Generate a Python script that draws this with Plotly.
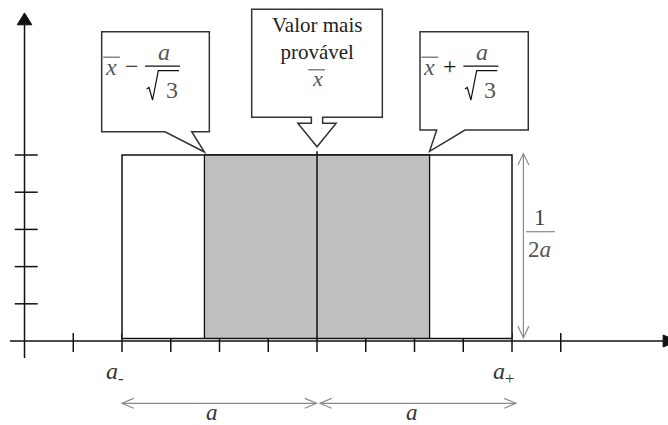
import math
import plotly.graph_objects as go

# Uniform (rectangular) distribution: centre, half-width and density level
xbar = 0.0
a = 4.0
level = 5.0
sigma = a / math.sqrt(3)

x_ticks = [-5, -4, -3, -2, -1, 0, 1, 2, 3, 4, 5]
y_ticks = [1, 2, 3, 4, 5]

box_labels = ["Valor mais<br>provável"]
bound_labels = ["<i>a</i><sub>-</sub>", "<i>a</i><sub>+</sub>"]
width_label = "<i>a</i>"

BLACK = "#111111"
EDGE = "#333333"
INK = "#3a3a3a"
GREY = "#8a8a8a"
FILL = "#c0c0c0"
SERIF = "Liberation Serif"

y_axis_x = xbar - 6.0
rect_floor = 0.07

fig = go.Figure()
shapes = []
annotations = []


def seg(x0, y0, x1, y1, color=BLACK, w=1.5):
    shapes.append(dict(type="line", xref="x", yref="y", x0=x0, y0=y0, x1=x1, y1=y1,
                       line=dict(color=color, width=w), layer="above"))


def path(points, fill=None, color=BLACK, w=1.5, closed=True):
    d = "M " + " L ".join(f"{px},{py}" for px, py in points) + (" Z" if closed else "")
    shapes.append(dict(type="path", xref="x", yref="y", path=d,
                       fillcolor=fill if fill else "rgba(0,0,0,0)",
                       line=dict(color=color, width=w), layer="above"))


def text(x, y, s, size=22, italic=False, color=INK):
    if italic:
        s = f"<i>{s}</i>"
    annotations.append(dict(x=x, y=y, xref="x", yref="y", text=s, showarrow=False,
                            xanchor="center", yanchor="middle",
                            font=dict(family=SERIF, size=size, color=color)))


# Axes drawn as lines with filled arrowheads
seg(-6.3, 0, 7.1, 0)
path([(7.1, 0.16), (7.4, 0), (7.1, -0.16)], fill=BLACK, w=1)
seg(y_axis_x, -0.46, y_axis_x, 8.5)
path([(y_axis_x - 0.15, 8.5), (y_axis_x, 8.82), (y_axis_x + 0.15, 8.5)], fill=BLACK, w=1)
for t in x_ticks:
    seg(t, 0.215, t, -0.296)
for t in y_ticks:
    seg(y_axis_x - 0.2, t, y_axis_x + 0.27, t)

# Density rectangle with the shaded central region
path([(xbar - a, rect_floor), (xbar + a, rect_floor), (xbar + a, level), (xbar - a, level)],
     fill="white", color=BLACK, w=1.5)
path([(xbar - sigma, rect_floor), (xbar + sigma, rect_floor),
      (xbar + sigma, level), (xbar - sigma, level)], fill=FILL, color=BLACK, w=1.3)
seg(xbar, rect_floor, xbar, level + 0.1)


def overline(xc, y, half=0.17):
    seg(xc - half, y, xc + half, y, color="#555555", w=1.1)


# Left callout: xbar - a/sqrt(3)
lb = (-4.417, -2.209, 5.626, 8.315)
tip_l = (xbar - sigma, level + 0.08)
path([(lb[0], lb[3]), (lb[1], lb[3]), (lb[1], lb[2]), (-2.57, lb[2]), tip_l,
      (-3.118, lb[2]), (lb[0], lb[2])], fill="white", color=EDGE, w=1.5)

# Right callout: xbar + a/sqrt(3)
rb = (2.113, 4.334, 5.672, 8.315)
tip_r = (xbar + sigma, level + 0.1)
path([(rb[0], rb[3]), (rb[1], rb[3]), (rb[1], rb[2]), (3.036, rb[2]), tip_r,
      (2.455, rb[2]), (rb[0], rb[2])], fill="white", color=EDGE, w=1.5)

# Middle callout with block arrow pointing at the centre
mb = (-1.34, 1.34, 6.013, 8.917)
path([(mb[0], mb[3]), (mb[1], mb[3]), (mb[1], mb[2]), (0.116, mb[2]), (0.116, 5.852),
      (0.393, 5.852), (xbar, 5.223), (-0.393, 5.852), (-0.116, 5.852), (-0.116, mb[2]),
      (mb[0], mb[2])], fill="white", color=EDGE, w=1.5)

text(xbar, 8.13, box_labels[0], size=21, color="#222222")
text(xbar, 7.05, "x", size=22, italic=True, color="#555555")
overline(xbar - 0.01, 7.29)


def sigma_formula(dx, sign):
    text(-4.226 + dx, 7.36, "x", size=24, italic=True, color="#555555")
    overline(-4.215 + dx, 7.63)
    text(-3.805 + dx, 7.40, sign, size=24, color=BLACK)
    seg(-3.528 + dx, 7.39, -2.81 + dx, 7.39, color=BLACK, w=1.2)
    text(-3.14 + dx, 7.78, "a", size=24, italic=True, color="#555555")
    # radical sign over the 3
    path([(-3.497 + dx, 6.774), (-3.446 + dx, 6.815), (-3.374 + dx, 6.478),
          (-3.255 + dx, 7.266), (-2.831 + dx, 7.266)], color=BLACK, w=1.2, closed=False)
    text(-2.985 + dx, 6.74, "3", size=24, color="#555555")


sigma_formula(0.0, "−")
sigma_formula(6.53, "+")

# Height of the density, 1/(2a)
vx = xbar + a + 0.234
seg(vx, rect_floor + 0.02, vx, level + 0.04, color=GREY, w=1.2)
path([(vx - 0.113, level - 0.27), (vx, level + 0.04), (vx + 0.113, level - 0.27)],
     color=GREY, w=1.2, closed=False)
path([(vx - 0.113, rect_floor + 0.33), (vx, rect_floor + 0.02), (vx + 0.113, rect_floor + 0.33)],
     color=GREY, w=1.2, closed=False)
text(4.574, 3.33, "1", size=23, color="#444444")
seg(4.287, 2.938, 4.882, 2.938, color=GREY, w=1.2)
text(4.56, 2.45, "2<i>a</i>", size=23, color="#555555")

# Bounds of the distribution
text(xbar - a - 0.14, -0.87, bound_labels[0], size=24, color="#333333")
text(xbar + a - 0.18, -0.85, bound_labels[1], size=24, color="#333333")

# Half-width arrows below the axis
ay = -1.675
spans = [(xbar - a, xbar - 0.01), (xbar + 0.06, xbar + a + 0.08)]
for x0, x1 in spans:
    seg(x0, ay, x1, ay, color=GREY, w=1.2)
    path([(x0 + 0.24, ay + 0.134), (x0, ay), (x0 + 0.24, ay - 0.134)], color=GREY, w=1.2, closed=False)
    path([(x1 - 0.24, ay + 0.134), (x1, ay), (x1 - 0.24, ay - 0.134)], color=GREY, w=1.2, closed=False)
text(-2.16, -1.91, width_label, size=23, color="#333333")
text(1.94, -1.91, width_label, size=23, color="#333333")

fig.update_layout(
    width=668, height=425,
    margin=dict(l=0, r=0, t=0, b=0),
    paper_bgcolor="white", plot_bgcolor="white",
    xaxis=dict(range=[-6.503, 7.200], visible=False, fixedrange=True),
    yaxis=dict(range=[-2.258, 9.167], visible=False, fixedrange=True),
    shapes=shapes, annotations=annotations, showlegend=False,
)

fig.write_html("out.html")
